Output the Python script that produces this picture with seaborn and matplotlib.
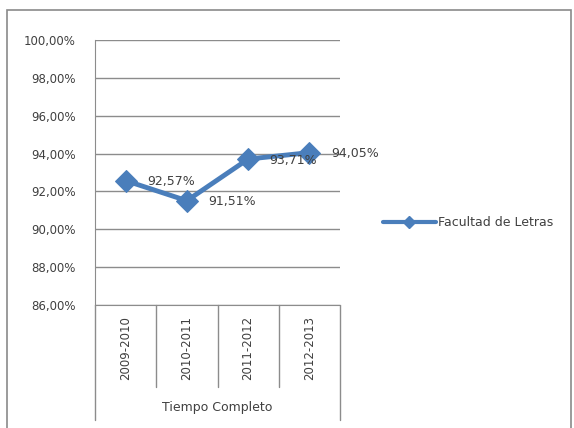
import numpy as np
import pandas as pd
import matplotlib
matplotlib.use("Agg")
import matplotlib.pyplot as plt
import matplotlib.transforms as mtransforms
from matplotlib.patches import Rectangle
from matplotlib.lines import Line2D
import seaborn as sns

sns.set_style("white")
plt.rcParams["font.family"] = ["DejaVu Sans"]

# =========================
# DATA
# =========================
years = ["2009-2010", "2010-2011", "2011-2012", "2012-2013"]
values = [92.57, 91.51, 93.71, 94.05]
group_label = "Tiempo Completo"
series_name = "Facultad de Letras"
yticks = [86, 88, 90, 92, 94, 96, 98, 100]

df = pd.DataFrame({"year": years, "value": values})

line_color = "#4a7ebb"
grid_color = "#8c8c8c"
text_color = "#404040"

fig = plt.figure(figsize=(5.74, 4.28), dpi=100)
ax = fig.add_axes([95 / 574, 1 - 305 / 428, 245 / 574, 265 / 428])

# outer chart frame
fig.patches.append(Rectangle((7 / 574, -0.01), 564 / 574, 1 - 10 / 428 + 0.01,
                             transform=fig.transFigure, fill=False,
                             edgecolor="#8a8a8a", linewidth=1.2))

sns.lineplot(data=df, x="year", y="value", ax=ax, color=line_color,
             linewidth=3.5, marker="D", markersize=11,
             markeredgecolor=line_color, sort=False, legend=False)

# data labels
for i, v in enumerate(values):
    ax.text(i + 0.35, v - 0.05, f"{v:.2f}%".replace(".", ","),
            fontsize=9, color=text_color, va="center", ha="left",
            clip_on=False)

ax.set_ylim(86, 100)
ax.set_yticks(yticks)
ax.set_yticklabels([f"{t:.2f}%".replace(".", ",") for t in yticks],
                   fontsize=8.5, color=text_color)
ax.set_xlim(-0.5, 3.5)
ax.set_xticks(range(len(years)))
ax.set_xticklabels(years, rotation=90, fontsize=8.5, color=text_color)
ax.tick_params(axis="x", length=0, pad=8)
ax.tick_params(axis="y", length=5, color=grid_color, direction="out", pad=9)
ax.set_xlabel("")
ax.set_ylabel("")

ax.grid(axis="y", color=grid_color, linewidth=1)
ax.set_axisbelow(True)
for side in ["top", "right"]:
    ax.spines[side].set_visible(False)
ax.spines["left"].set_color(grid_color)
ax.spines["bottom"].set_color(grid_color)

# category separators below the axis
trans = mtransforms.blended_transform_factory(ax.transData, ax.transAxes)
for x in [0.5, 1.5, 2.5]:
    ax.plot([x, x], [0, -82 / 265], color=grid_color, linewidth=1,
            transform=trans, clip_on=False)
for x in [-0.5, 3.5]:
    ax.plot([x, x], [0, -115 / 265], color=grid_color, linewidth=1,
            transform=trans, clip_on=False)
ax.text(1.5, -103 / 265, group_label, transform=trans, ha="center",
        va="center", fontsize=9, color=text_color)

handle = Line2D([], [], color=line_color, linewidth=3, marker="D",
                markersize=6, markeredgecolor=line_color)
ax.legend([handle], [series_name], loc="center left",
          bbox_to_anchor=(1.13, 0.31), frameon=False, fontsize=9,
          handlelength=4.2, labelcolor=text_color, handletextpad=0.2)

fig.savefig("out.png", dpi=100)
